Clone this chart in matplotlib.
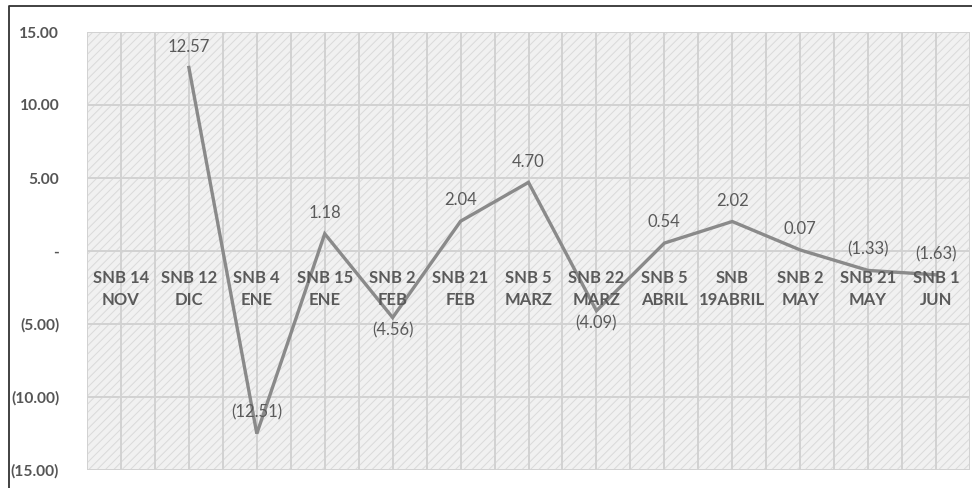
import numpy as np
import matplotlib
matplotlib.use("Agg")
import matplotlib.pyplot as plt
from matplotlib.lines import Line2D

categories = ["SNB 14\nNOV", "SNB 12\nDIC", "SNB 4\nENE", "SNB 15\nENE", "SNB 2\nFEB",
              "SNB 21\nFEB", "SNB 5\nMARZ", "SNB 22\nMARZ", "SNB 5\nABRIL", "SNB\n19ABRIL",
              "SNB 2\nMAY", "SNB 21\nMAY", "SNB 1\nJUN"]
values = [np.nan, 12.57, -12.51, 1.18, -4.56, 2.04, 4.70, -4.09, 0.54, 2.02, 0.07, -1.33, -1.63]
ytick_values = [15, 10, 5, 0, -5, -10, -15]
ytick_labels = ["15.00", "10.00", "5.00", "-", "(5.00)", "(10.00)", "(15.00)"]
label_below = [False, False, False, False, True, False, False, True, False, False, False, False, False]

plt.rcParams['font.family'] = ['Lato', 'DejaVu Sans']
plt.rcParams['hatch.linewidth'] = 0.7
plt.rcParams['hatch.color'] = '#d9d9d9'

fig = plt.figure(figsize=(9.72, 4.88), dpi=100)
ax = fig.add_axes([87/972, 1-470/488, (970-87)/972, (470-32)/488])

ax.set_facecolor('#f1f1f1')
ax.patch.set_hatch('////')
ax.patch.set_edgecolor('#dadada')

n = len(categories)
x = np.arange(n)
ax.set_xlim(-0.5, n - 0.5)
ax.set_ylim(-15, 15)

# gridlines
for gx in np.arange(-0.5, n, 0.5):
    ax.axvline(gx, color='#d2d2d2', lw=1.4, zorder=1)
for gy in ytick_values:
    ax.axhline(gy, color='#d2d2d2', lw=1.4, zorder=1)

for s in ax.spines.values():
    s.set_visible(False)

ax.plot(x, values, color='#8a8a8a', lw=2.4, zorder=3, solid_joinstyle='miter')

def fmt(v):
    return f"({abs(v):.2f})" if v < 0 else f"{v:.2f}"

for xi, v, below in zip(x, values, label_below):
    if np.isnan(v):
        continue
    off = -9 if below else 15
    ax.annotate(fmt(v), (xi, v), xytext=(0, off), textcoords='offset points',
                ha='center', va='center', fontsize=12, color='#5a5a5a', zorder=4)

# category labels at the zero line
for xi, c in zip(x, categories):
    ax.annotate(c, (xi, 0), xytext=(0, -14), textcoords='offset points',
                ha='center', va='top', fontsize=12, fontweight='bold',
                color='#5a5a5a', linespacing=1.45, zorder=4)

ax.set_xticks([])
ax.set_yticks(ytick_values)
ax.set_yticklabels(ytick_labels, fontsize=11.2, fontweight='bold', color='#555555')
ax.tick_params(axis='y', length=0, pad=20)

# outer border (left and top)
fig.add_artist(Line2D([9/972, 9/972, 1.0], [0.0, 1-6/488, 1-6/488],
                      transform=fig.transFigure, color='#333333', lw=1.3))

fig.savefig('out.png', dpi=100, facecolor='white')
